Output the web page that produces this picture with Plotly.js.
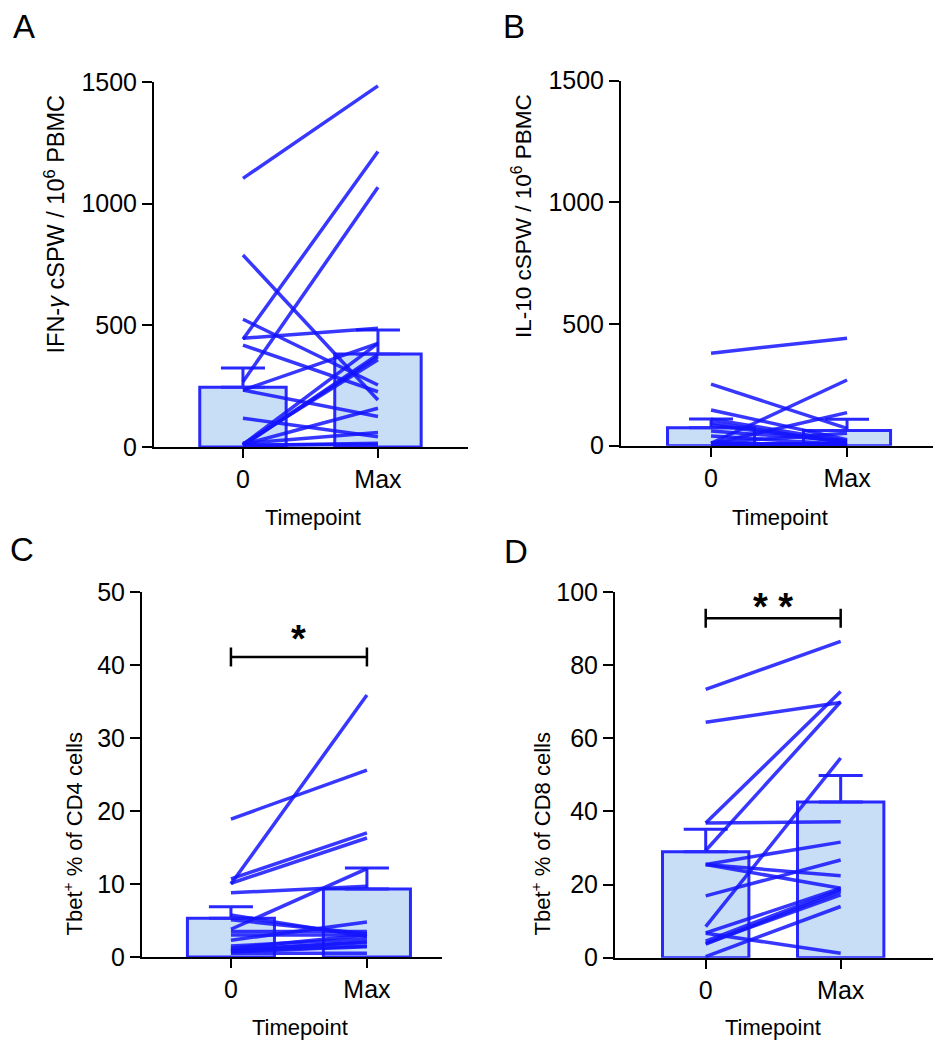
<!DOCTYPE html>
<html>
<head>
<meta charset="utf-8">
<script src="https://cdn.plot.ly/plotly-3.0.1.min.js"></script>
<style>html,body{margin:0;padding:0;background:#fff;}#chart{width:938px;height:1050px;}</style>
</head>
<body>
<div id="chart"></div>
<script>
// ---------- data ----------
const timepoints = [0, 1];
const tickLabels = ['0', 'Max'];

// Panel A: IFN-γ cSPW / 10^6 PBMC
const ifnPre  = [1104, 443, 268, 789, 525, 447, 419, 234, 234, 118, 10, 8, 12, 5, 10, 6, 15, 8];
const ifnPost = [1484, 1214, 1067, 193, 255, 488, 227, 426, 125, 42, 426, 371, 358, 380, 159, 15, 60, 10];
const ifnMean = [246, 382];
const ifnSem  = [79, 99];

// Panel B: IL-10 cSPW / 10^6 PBMC
const il10Pre  = [380, 253, 147, 109, 10, 8, 12, 95, 85, 60, 40, 5, 5, 10, 3, 5, 8, 4];
const il10Post = [442, 71, 25, 17, 270, 136, 51, 10, 15, 20, 5, 8, 3, 5, 10, 2, 6, 4];
const il10Mean = [74, 62];
const il10Sem  = [36, 47];

// Panel C: Tbet+ % of CD4 cells
const cd4Pre  = [18.9, 10.0, 10.7, 10.1, 8.8, 3.8, 5.75, 5.1, 2.3, 1.2, 0.96, 0.7, 0.5, 3.5, 3.0, 1.5, 1.0, 0.8];
const cd4Post = [25.6, 35.9, 17.0, 16.3, 9.7, 12.1, 2.8, 3.2, 4.8, 3.0, 2.1, 1.4, 0.5, 3.5, 3.0, 2.5, 2.0, 1.5];
const cd4Mean = [5.3, 9.3];
const cd4Sem  = [1.6, 2.9];

// Panel D: Tbet+ % of CD8 cells
const cd8Pre  = [73.4, 64.4, 36.8, 29.3, 36.8, 25.5, 25.5, 25.5, 16.9, 8.5, 6.8, 6.7, 3.9, 3.7, 0.3, 4.5];
const cd8Post = [86.5, 69.8, 72.8, 70.0, 37.2, 31.6, 22.4, 19.0, 26.7, 54.6, 19.0, 1.2, 17.2, 18.1, 14.0, 18.6];
const cd8Mean = [29.0, 42.6];
const cd8Sem  = [6.1, 7.2];

const yTitles = [
  'IFN-<i>γ</i> cSPW / 10<sup>6</sup> PBMC',
  'IL-10 cSPW / 10<sup>6</sup> PBMC',
  'Tbet<sup>+</sup> % of CD4 cells',
  'Tbet<sup>+</sup> % of CD8 cells'
];
const panelLetters = ['A', 'B', 'C', 'D'];
const xTitle = 'Timepoint';

// ---------- styling / layout ----------
const W = 938, H = 1050;
const px = v => v / W;
const py = v => 1 - v / H;
const BLUE = 'rgba(20,20,255,0.85)';
const BAR_LINE = 'rgb(40,40,255)';
const BAR_FILL = 'rgb(200,222,246)';
const FONT = 'Liberation Sans, Arial, sans-serif';

const panels = [
  {pre: ifnPre, post: ifnPost, mean: ifnMean, sem: ifnSem, yr: [0, 1500], dt: 500,
   xd: [154, 468], yd: [447, 82], xr: [-0.659, 1.667],
   ytitle: {x: 55, y: 93, size: 23.5}, letter: {x: 24, y: 27}, xtitle: {x: 313, y: 517}},
  {pre: il10Pre, post: il10Post, mean: il10Mean, sem: il10Sem, yr: [0, 1500], dt: 500,
   xd: [621, 933], yd: [445.7, 80.7], xr: [-0.662, 1.632],
   ytitle: {x: 522, y: 92, size: 22.5}, letter: {x: 514, y: 27}, xtitle: {x: 780, y: 517}},
  {pre: cd4Pre, post: cd4Post, mean: cd4Mean, sem: cd4Sem, yr: [0, 50], dt: 10,
   xd: [142, 442], yd: [957, 592], xr: [-0.654, 1.552],
   ytitle: {x: 72, y: 731, size: 22}, letter: {x: 22, y: 549}, xtitle: {x: 300, y: 1027},
   sig: {x0: 0, x1: 1, y: 41.1, tick: 1.3, label: '*', ly: 43.6}},
  {pre: cd8Pre, post: cd8Post, mean: cd8Mean, sem: cd8Sem, yr: [0, 100], dt: 20,
   xd: [615, 933], yd: [957.7, 592], xr: [-0.672, 1.684],
   ytitle: {x: 540, y: 731, size: 22}, letter: {x: 516, y: 551}, xtitle: {x: 773, y: 1027},
   sig: {x0: 0, x1: 1, y: 92.8, tick: 2.6, label: '**', ly: 95.8}}
];

const traces = [];
const layout = {
  width: W, height: H,
  margin: {l: 0, r: 0, t: 0, b: 0},
  paper_bgcolor: '#fff', plot_bgcolor: 'rgba(0,0,0,0)',
  showlegend: false,
  font: {family: FONT, color: '#000'},
  annotations: [],
  shapes: []
};

panels.forEach((p, i) => {
  const n = i + 1;
  const xa = n === 1 ? 'x' : 'x' + n;
  const ya = n === 1 ? 'y' : 'y' + n;
  traces.push({
    type: 'bar', x: timepoints, y: p.mean, xaxis: xa, yaxis: ya,
    width: 0.64,
    marker: {color: BAR_FILL, line: {color: BAR_LINE, width: 3}},
    error_y: {type: 'data', symmetric: false, array: p.sem, arrayminus: [0, 0],
              color: BAR_LINE, thickness: 3, width: 22},
    hoverinfo: 'skip'
  });
  for (let k = 0; k < p.pre.length; k++) {
    traces.push({
      type: 'scatter', mode: 'lines', x: timepoints, y: [p.pre[k], p.post[k]],
      xaxis: xa, yaxis: ya,
      line: {color: BLUE, width: 3.5}, hoverinfo: 'skip'
    });
  }
  const xKey = n === 1 ? 'xaxis' : 'xaxis' + n;
  const yKey = n === 1 ? 'yaxis' : 'yaxis' + n;
  layout[xKey] = {
    domain: [px(p.xd[0]), px(p.xd[1])], range: p.xr, anchor: ya,
    tickmode: 'array', tickvals: timepoints, ticktext: tickLabels,
    ticks: 'outside', ticklen: 9, tickwidth: 2, tickcolor: '#000',
    showline: true, linecolor: '#000', linewidth: 2,
    showgrid: false, zeroline: false, fixedrange: true,
    tickfont: {size: 25, family: FONT, color: '#000'}
  };
  layout[yKey] = {
    domain: [py(p.yd[0]), py(p.yd[1])], range: p.yr, anchor: xa,
    tickmode: 'linear', tick0: 0, dtick: p.dt,
    ticks: 'outside', ticklen: 10, tickwidth: 2, tickcolor: '#000',
    showline: true, linecolor: '#000', linewidth: 2,
    showgrid: false, zeroline: false, fixedrange: true,
    tickfont: {size: 25, family: FONT, color: '#000'}
  };
  layout.annotations.push({
    xref: 'paper', yref: 'paper', x: px(p.ytitle.x), y: py(p.ytitle.y),
    xanchor: 'center', yanchor: 'top', textangle: -90, showarrow: false,
    text: yTitles[i], font: {size: p.ytitle.size, family: FONT, color: '#000'}
  });
  layout.annotations.push({
    xref: 'paper', yref: 'paper', x: px(p.letter.x), y: py(p.letter.y),
    xanchor: 'center', yanchor: 'middle', showarrow: false,
    text: panelLetters[i], font: {size: 33, family: FONT, color: '#000'}
  });
  layout.annotations.push({
    xref: 'paper', yref: 'paper', x: px(p.xtitle.x), y: py(p.xtitle.y),
    xanchor: 'center', yanchor: 'middle', showarrow: false,
    text: xTitle, font: {size: 22, family: FONT, color: '#000'}
  });
  if (p.sig) {
    const s = p.sig;
    const ln = {color: '#000', width: 2.5};
    layout.shapes.push({type: 'line', xref: xa, yref: ya, x0: s.x0, x1: s.x1, y0: s.y, y1: s.y, line: ln});
    layout.shapes.push({type: 'line', xref: xa, yref: ya, x0: s.x0, x1: s.x0, y0: s.y - s.tick, y1: s.y + s.tick, line: ln});
    layout.shapes.push({type: 'line', xref: xa, yref: ya, x0: s.x1, x1: s.x1, y0: s.y - s.tick, y1: s.y + s.tick, line: ln});
    layout.annotations.push({
      xref: xa, yref: ya, x: (s.x0 + s.x1) / 2, y: s.ly, xanchor: 'center', yanchor: 'middle',
      showarrow: false, text: '<b>' + s.label.split('').join(' ') + '</b>',
      font: {size: 38, family: FONT, color: '#000'}
    });
  }
});

Plotly.newPlot('chart', traces, layout, {displayModeBar: false, staticPlot: true});
</script>
</body>
</html>
